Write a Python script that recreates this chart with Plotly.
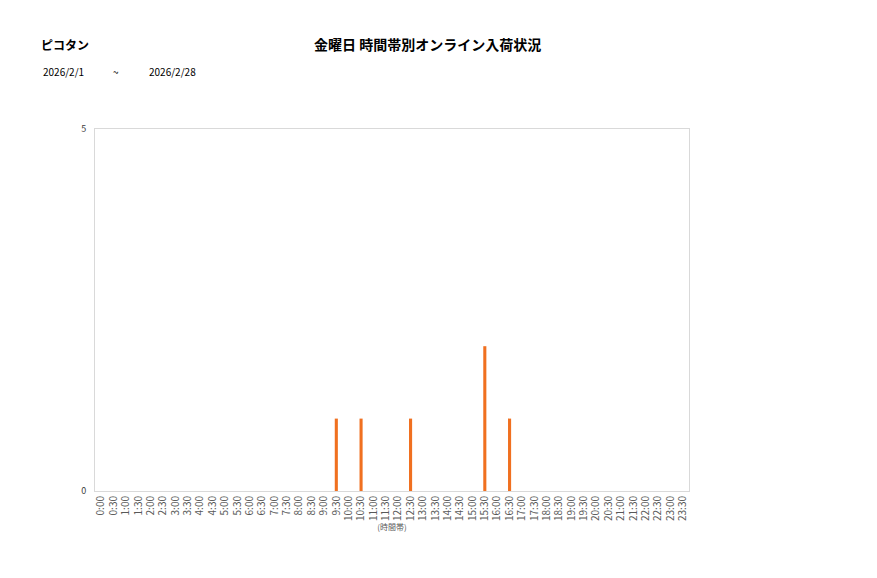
import plotly.graph_objects as go

# 時間帯 (30分刻み) と入荷件数
time_slots = [f"{h}:{m:02d}" for h in range(24) for m in (0, 30)]
counts = [0] * len(time_slots)
arrivals = {"9:30": 1, "10:30": 1, "12:30": 1, "15:30": 2, "16:30": 1}
for slot, n in arrivals.items():
    counts[time_slots.index(slot)] = n

shop_name = "ピコタン"
chart_title = "金曜日 時間帯別オンライン入荷状況"
date_from = "2026/2/1"
date_to = "2026/2/28"

font_family = "Noto Sans CJK JP"

# ページ上のずれ (約7px) を見込んだ余白
ml, mr, mt, mb = 87, 196, 121, 95
W, H = 877, 578

fig = go.Figure()
fig.add_trace(
    go.Bar(
        x=time_slots,
        y=counts,
        marker=dict(color="#F07020", line=dict(width=0)),
        width=0.25,
        showlegend=False,
    )
)

fig.update_layout(
    width=W,
    height=H,
    margin=dict(l=ml, r=mr, t=mt, b=mb),
    plot_bgcolor="white",
    paper_bgcolor="white",
    font=dict(family=font_family, size=9, color="#595959"),
)

fig.update_xaxes(
    type="category",
    tickangle=-90,
    tickfont=dict(size=10, color="#595959"),
    showgrid=False,
    showline=True,
    linecolor="#D9D9D9",
    linewidth=1,
    mirror=True,
    ticks="",
    title=dict(text="(時間帯)", font=dict(size=8, color="#595959"), standoff=2),
)
fig.update_yaxes(
    range=[0, 5],
    tickvals=[0, 5],
    showgrid=False,
    zeroline=False,
    showline=True,
    linecolor="#D9D9D9",
    linewidth=1,
    mirror=True,
    tickfont=dict(size=9, color="#404040"),
    ticks="",
    ticklabelstandoff=6,
)

# 見出しと期間 (ページ座標で配置)
annots = [
    dict(text="<b>" + shop_name + "</b>", x=38, y=43, size=12, anchor="left"),
    dict(text="<b>" + chart_title + "</b>", x=427, y=43, size=14, anchor="center"),
    dict(text=date_from, x=40, y=70, size=10, anchor="left"),
    dict(text="~", x=115, y=70, size=10, anchor="center"),
    dict(text=date_to, x=146, y=70, size=10, anchor="left"),
]
plot_w = W - ml - mr
plot_h = H - mt - mb
for a in annots:
    fig.add_annotation(
        text=a["text"],
        xref="paper",
        yref="paper",
        x=(a["x"] - 7 - ml) / plot_w,
        y=(H - mb - (a["y"] - 7)) / plot_h,
        showarrow=False,
        xanchor=a["anchor"],
        yanchor="middle",
        font=dict(size=a["size"], color="#000000", family=font_family),
    )

fig.write_html("out.html")
